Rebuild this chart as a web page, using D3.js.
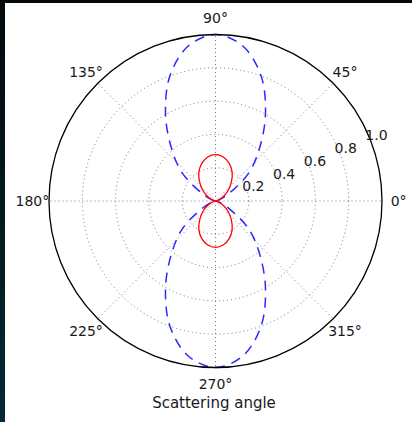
<!DOCTYPE html>
<html>
<head>
<meta charset="utf-8">
<script src="https://cdn.jsdelivr.net/npm/d3@7"></script>
<style>
  html, body { margin: 0; padding: 0; background: #03262d; }
  svg { display: block; }
  text { font-family: "DejaVu Sans", sans-serif; fill: #1a1a1a; }
</style>
</head>
<body>
<svg id="chart" width="412" height="422"></svg>
<script>
// Angles in degrees (counter-clockwise from 0° = east)
const angles = [0,10,20,30,40,50,60,70,80,90,100,110,120,130,140,150,160,170,
                180,190,200,210,220,230,240,250,260,270,280,290,300,310,320,330,340,350];
// Blue dashed series
const blueR = [0,0.004,0.032,0.10,0.26,0.41,0.60,0.80,0.945,1.0,0.945,0.80,0.60,0.41,0.26,0.10,0.032,0.004,
               0,0.004,0.032,0.10,0.26,0.41,0.60,0.80,0.945,1.0,0.945,0.80,0.60,0.41,0.26,0.10,0.032,0.004];
// Red solid series
const redR = [0,0.004,0.022,0.055,0.10,0.148,0.20,0.24,0.268,0.278,0.268,0.24,0.20,0.148,0.10,0.055,0.022,0.004,
              0,0.004,0.022,0.055,0.10,0.148,0.20,0.24,0.268,0.278,0.268,0.24,0.20,0.148,0.10,0.055,0.022,0.004];
const rTicks = [0.2, 0.4, 0.6, 0.8, 1.0];
const rTickLabels = ["0.2", "0.4", "0.6", "0.8", "1.0"];
const thetaTicks = [0, 45, 90, 135, 180, 225, 270, 315];
const thetaTickLabels = ["0°", "45°", "90°", "135°", "180°", "225°", "270°", "315°"];
const xLabel = "Scattering angle";

const svg = d3.select("#chart");
// background panels
const defs = svg.append("defs");
const grad = defs.append("linearGradient").attr("id", "edge").attr("x1", 0).attr("y1", 0).attr("x2", 0).attr("y2", 1);
grad.append("stop").attr("offset", "0%").attr("stop-color", "#05090c");
grad.append("stop").attr("offset", "100%").attr("stop-color", "#022a32");
svg.append("rect").attr("x", 0).attr("y", 0).attr("width", 412).attr("height", 422).attr("fill", "url(#edge)");
svg.append("rect").attr("x", 0).attr("y", 0).attr("width", 412).attr("height", 3).attr("fill", "#05090c");
svg.append("rect").attr("x", 5).attr("y", 3).attr("width", 407).attr("height", 419).attr("fill", "#ffffff");

const cx = 215.5, cy = 201, R = 166.5;
const r = d3.scaleLinear().domain([0, 1]).range([0, R]);
const toRad = d => (90 - d) * Math.PI / 180; // d3 radial: 0 = up, clockwise

const g = svg.append("g").attr("transform", `translate(${cx},${cy})`);

// grid rings
g.selectAll("circle.ring").data(rTicks.slice(0, -1)).enter().append("circle")
  .attr("r", d => r(d)).attr("fill", "none")
  .attr("stroke", "#555").attr("stroke-width", 0.8).attr("stroke-dasharray", "1,3");
// radial grid lines
g.selectAll("line.spoke").data(thetaTicks).enter().append("line")
  .attr("x1", 0).attr("y1", 0)
  .attr("x2", d => r(1) * Math.sin(toRad(d)))
  .attr("y2", d => -r(1) * Math.cos(toRad(d)))
  .attr("stroke", "#555").attr("stroke-width", 0.8).attr("stroke-dasharray", "1,3");

const line = d3.lineRadial()
  .angle((d, i) => toRad(angles[i]))
  .radius(d => r(d))
  .curve(d3.curveCatmullRomClosed.alpha(0.5));

g.append("path").attr("d", line(blueR)).attr("fill", "none")
  .attr("stroke", "#2a2aff").attr("stroke-width", 1.5).attr("stroke-dasharray", "10,7");
g.append("path").attr("d", line(redR)).attr("fill", "none")
  .attr("stroke", "#ff0000").attr("stroke-width", 1.3);

// outer frame
g.append("circle").attr("r", r(1)).attr("fill", "none").attr("stroke", "#000").attr("stroke-width", 1.3);

// radial tick labels at 22.5°
const rlAng = toRad(22.5);
g.selectAll("text.rl").data(rTicks).enter().append("text")
  .attr("x", d => r(d) * Math.sin(rlAng) - 4)
  .attr("y", d => -r(d) * Math.cos(rlAng) - 2)
  .attr("dominant-baseline", "central")
  .attr("font-size", 14)
  .text((d, i) => rTickLabels[i]);

// angular tick labels
g.selectAll("text.tl").data(thetaTicks).enter().append("text")
  .attr("x", d => r(1.1) * Math.sin(toRad(d)))
  .attr("y", d => -r(1.1) * Math.cos(toRad(d)))
  .attr("text-anchor", "middle")
  .attr("dominant-baseline", "central")
  .attr("font-size", 14)
  .text((d, i) => thetaTickLabels[i]);

svg.append("text").attr("x", 214).attr("y", 403)
  .attr("text-anchor", "middle").attr("dominant-baseline", "central")
  .attr("font-size", 15).text(xLabel);
</script>
</body>
</html>
